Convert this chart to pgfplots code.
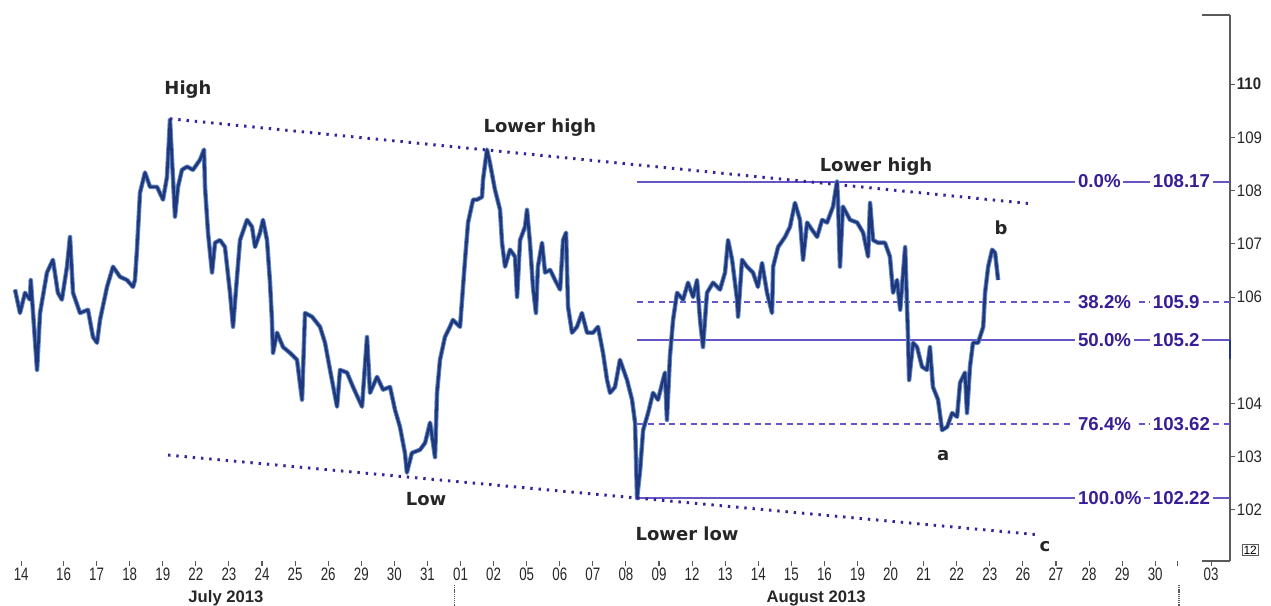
\documentclass[border=0pt]{standalone}
\usepackage{pgfplots}
\pgfplotsset{compat=1.18}
\usepackage{fontspec}
\setmainfont{Liberation Sans}
\newfontfamily\narrowfont[FakeStretch=0.74]{Liberation Sans}
\newfontfamily\ylabfont[FakeStretch=0.9]{Liberation Sans}
\newfontfamily\annfont{DejaVu Sans}

\definecolor{price}{RGB}{30,55,125}
\definecolor{priceedge}{RGB}{105,140,195}
\definecolor{fibline}{RGB}{100,85,200}
\definecolor{fibtext}{RGB}{55,30,150}
\definecolor{trend}{RGB}{55,35,150}
\definecolor{axisgray}{RGB}{90,90,90}

\tikzset{
  annot/.style={font=\annfont\bfseries\fontsize{13.5}{15}\selectfont, text=black!85, anchor=base, inner sep=0pt},
  fiblab/.style={font=\bfseries\fontsize{14}{15}\selectfont, text=fibtext, fill=white, anchor=west, inner xsep=2pt, inner ysep=1pt},
}

% USD/JPY, intraday, 15 Jul - 03 Sep 2013 (x = trading day, 0 = 16 Jul)
\pgfplotstableread{
x y
-1.467 106.14
-1.315 105.70
-1.164 106.08
-1.013 105.95
-0.99 106.32
-0.80 104.63
-0.71 105.70
-0.50 106.46
-0.32 106.70
-0.17 106.08
-0.05 105.95
0.105 106.57
0.196 107.13
0.287 106.08
0.498 105.70
0.74 105.76
0.891 105.25
1.012 105.14
1.103 105.57
1.315 106.19
1.496 106.57
1.708 106.38
1.919 106.32
2.10 106.19
2.16 106.32
2.22 106.89
2.312 107.96
2.463 108.34
2.615 108.07
2.826 108.07
3.008 107.83
3.128 108.26
3.219 109.33
3.28 108.58
3.37 107.51
3.46 108.07
3.58 108.39
3.733 108.45
3.914 108.39
4.126 108.58
4.247 108.77
4.277 108.07
4.368 107.21
4.489 106.46
4.58 107.02
4.73 107.07
4.88 106.94
5.033 106.08
5.124 105.44
5.245 106.38
5.335 107.07
5.547 107.45
5.698 107.32
5.789 106.94
5.94 107.21
6.03 107.45
6.151 107.07
6.242 106.27
6.30 105.57
6.333 104.95
6.454 105.33
6.635 105.06
6.847 104.95
7.058 104.82
7.21 104.07
7.30 105.70
7.512 105.63
7.754 105.44
7.905 105.14
8.056 104.63
8.268 103.94
8.358 104.63
8.57 104.58
8.751 104.31
9.023 103.94
9.174 105.25
9.265 104.20
9.477 104.50
9.658 104.26
9.87 104.31
10.02 103.88
10.17 103.56
10.32 103.07
10.38 102.70
10.53 103.07
10.776 103.13
10.93 103.26
11.08 103.64
11.23 102.99
11.29 104.20
11.38 104.82
11.53 105.25
11.68 105.44
11.77 105.57
11.986 105.44
12.047 105.95
12.137 106.70
12.228 107.40
12.38 107.83
12.50 107.83
12.65 107.88
12.68 108.20
12.80 108.77
12.89 108.52
13.04 108.02
13.195 107.64
13.255 107.02
13.346 106.57
13.497 106.89
13.648 106.76
13.71 106.00
13.80 107.07
13.95 107.32
14.01 107.64
14.10 107.02
14.19 106.19
14.28 105.70
14.34 106.57
14.465 107.02
14.555 106.46
14.71 106.51
14.858 106.32
15.01 106.14
15.10 107.07
15.19 107.21
15.25 105.82
15.37 105.33
15.52 105.44
15.67 105.70
15.825 105.33
16.006 105.33
16.157 105.44
16.308 104.95
16.43 104.44
16.52 104.20
16.67 104.31
16.82 104.82
17.034 104.44
17.185 104.07
17.276 103.64
17.337 102.22
17.43 102.75
17.52 103.50
17.67 103.82
17.82 104.20
17.97 104.07
18.12 104.44
18.18 104.58
18.24 103.69
18.33 104.88
18.425 105.57
18.546 106.08
18.727 105.95
18.878 106.27
19.03 106.00
19.15 106.32
19.24 105.57
19.33 105.06
19.45 106.08
19.634 106.27
19.845 106.14
19.996 106.46
20.087 107.07
20.21 106.70
20.36 105.95
20.39 105.63
20.51 106.70
20.66 106.57
20.84 106.46
20.99 106.19
21.115 106.64
21.266 106.08
21.417 105.70
21.45 106.57
21.60 106.94
21.81 107.13
21.96 107.32
22.11 107.77
22.26 107.45
22.355 106.70
22.476 107.40
22.63 107.26
22.78 107.13
22.93 107.45
23.08 107.40
23.26 107.70
23.38 108.17
23.41 107.83
23.47 106.57
23.56 107.70
23.775 107.45
23.99 107.40
24.17 107.21
24.32 106.76
24.38 107.77
24.47 107.07
24.62 107.02
24.83 107.02
24.98 106.76
25.075 106.08
25.196 106.32
25.29 105.76
25.44 106.94
25.53 105.19
25.56 104.44
25.68 105.14
25.80 105.06
25.95 104.69
26.10 104.63
26.19 105.06
26.28 104.31
26.435 104.07
26.556 103.50
26.71 103.56
26.86 103.82
27.01 103.75
27.10 104.39
27.25 104.58
27.31 103.82
27.40 104.69
27.49 105.14
27.645 105.14
27.80 105.44
27.856 106.08
27.95 106.57
28.07 106.89
28.16 106.83
28.25 106.32
}\pricedata

\begin{document}
\begin{tikzpicture}
\path[use as bounding box] (0,-33.75pt) rectangle (953.25pt,420.75pt);
\begin{axis}[
  at={(0,0)}, anchor=south west,
  scale only axis,
  width=922.5pt, height=409.5pt,
  xmin=-1.92, xmax=35.26,
  ymin=101.04, ymax=111.30,
  clip=false,
  axis x line*=bottom, axis y line*=right,
  x axis line style={draw=none},
  y axis line style={draw=axisgray, line width=0.9pt, -},
  tick align=outside,
  major tick length=3.5pt,
  tick style={axisgray, line width=0.8pt},
  xtick={-1.28,0,1,...,33,33.66,34.69},
  xticklabels={14,16,17,18,19,22,23,24,25,26,29,30,31,01,02,05,06,07,08,09,12,13,14,15,16,19,20,21,22,23,26,27,28,29,30,{},03},
  xticklabel style={font=\narrowfont\fontsize{13.5}{14}\selectfont, text=black!85, inner sep=1.5pt},
  ytick={102,103,104,106,107,108,109,110},
  yticklabels={102,103,104,106,107,108,109,\textbf{110}},
  yticklabel style={font=\ylabfont\fontsize{12.5}{14}\selectfont, text=black!85, anchor=west, inner sep=1.5pt},
  /pgf/number format/assume math mode=true,
]
% Fibonacci retracement levels
\addplot[fibline, line width=1.5pt] coordinates {(17.34,108.17) (35.26,108.17)};
\addplot[fibline, line width=1.4pt, dash pattern=on 4.5pt off 3.5pt] coordinates {(17.34,105.9) (35.26,105.9)};
\addplot[fibline, line width=1.5pt] coordinates {(17.34,105.2) (35.26,105.2)};
\addplot[fibline, line width=1.4pt, dash pattern=on 4.5pt off 3.5pt] coordinates {(17.34,103.62) (35.26,103.62)};
\addplot[fibline, line width=1.5pt] coordinates {(17.34,102.22) (35.26,102.22)};

% price
\addplot[priceedge, line width=3.4pt, line join=round] table[x=x, y=y] {\pricedata};
\addplot[price, line width=2.0pt, line join=round] table[x=x, y=y] {\pricedata};

% channel lines
\addplot[trend, line width=2.2pt, dash pattern=on 1.8pt off 4.4pt] coordinates {(3.22,109.35) (29.31,107.75)};
\addplot[trend, line width=2.2pt, dash pattern=on 1.8pt off 4.4pt] coordinates {(3.16,103.03) (29.52,101.53)};

% level labels
\node[fiblab] at (axis cs:30.58,108.17) {0.0\%};
\node[fiblab] at (axis cs:32.84,108.17) {108.17};
\node[fiblab] at (axis cs:30.58,105.9) {38.2\%};
\node[fiblab] at (axis cs:32.84,105.9) {105.9};
\node[fiblab] at (axis cs:30.58,105.2) {50.0\%};
\node[fiblab] at (axis cs:32.84,105.2) {105.2};
\node[fiblab] at (axis cs:30.58,103.62) {76.4\%};
\node[fiblab] at (axis cs:32.84,103.62) {103.62};
\node[fiblab] at (axis cs:30.58,102.22) {100.0\%};
\node[fiblab] at (axis cs:32.84,102.22) {102.22};

% swing labels
\node[annot] at (axis cs:3.76,109.80) {High};
\node[annot] at (axis cs:14.40,109.09) {Lower high};
\node[annot] at (axis cs:24.56,108.35) {Lower high};
\node[annot] at (axis cs:10.96,102.08) {Low};
\node[annot] at (axis cs:18.85,101.42) {Lower low};
\node[annot] at (axis cs:26.59,102.92) {a};
\node[annot] at (axis cs:28.34,107.17) {b};
\node[annot] at (axis cs:29.67,101.21) {c};

% axis end caps and current price marker
\draw[axisgray, line width=0.9pt] (axis cs:34.42,111.30) -- (axis cs:35.26,111.30);
\draw[axisgray, line width=0.9pt] (axis cs:34.42,101.04) -- (axis cs:35.26,101.04);
\draw[price, line width=1.8pt] (axis cs:35.26,105.2) -- (axis cs:35.26,104.83);
\node[draw=axisgray, line width=0.7pt, inner sep=1pt, font=\fontsize{9}{10}\selectfont] at (axis cs:35.87,101.25) {12};

% month labels and separators
\node[font=\bfseries\fontsize{12.5}{13}\selectfont, text=black!85] at ([yshift=-27.75pt]axis cs:4.91,101.04) {July 2013};
\node[font=\bfseries\fontsize{12.5}{13}\selectfont, text=black!85] at ([yshift=-27.75pt]axis cs:22.75,101.04) {August 2013};
\draw[axisgray, line width=0.9pt, dash pattern=on 1pt off 0.6pt] ([yshift=-18pt]axis cs:11.83,101.04) -- ([yshift=-34pt]axis cs:11.83,101.04);
\draw[axisgray, line width=0.9pt, dash pattern=on 1pt off 0.6pt] ([yshift=-18pt]axis cs:33.72,101.04) -- ([yshift=-34pt]axis cs:33.72,101.04);
\end{axis}
\end{tikzpicture}
\end{document}
